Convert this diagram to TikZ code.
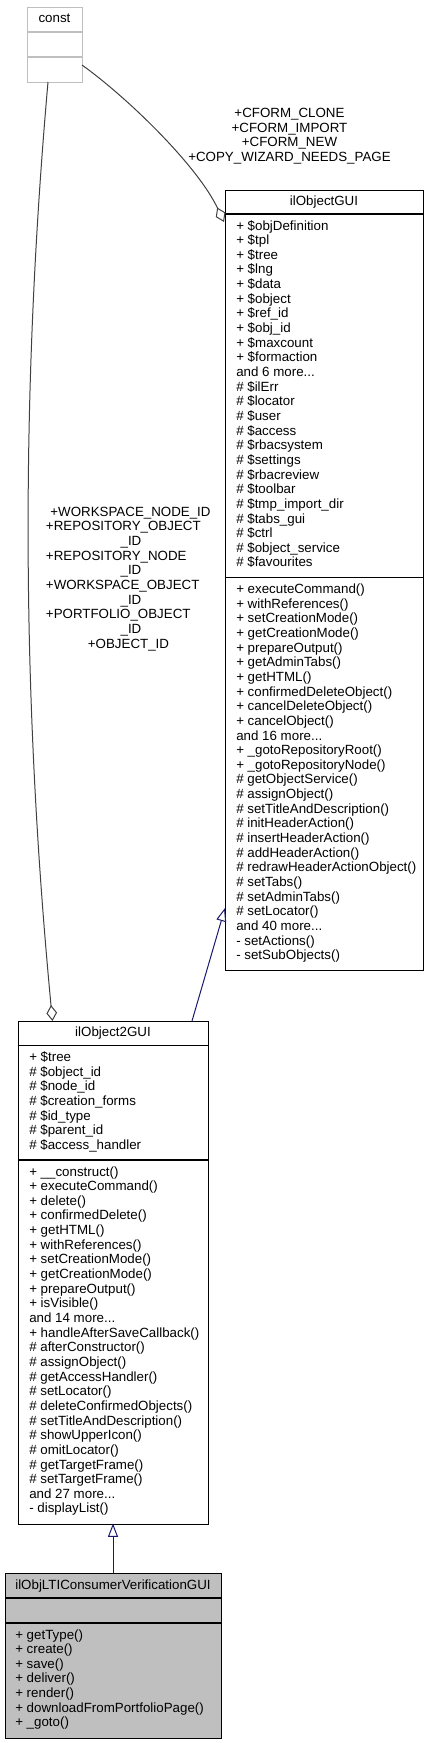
\documentclass[tikz,border=0pt]{standalone}
\usepackage{fontspec}
\setmainfont{Liberation Sans}
\usetikzlibrary{arrows.meta}
\definecolor{edgegrey}{HTML}{404040}
\definecolor{inhblue}{HTML}{191970}
\definecolor{focusgrey}{HTML}{BFBFBF}
\definecolor{undocgrey}{HTML}{BFBFBF}
\newcommand\moredots{...}
\begin{document}
\begin{tikzpicture}[x=0.75pt,y=-0.75pt,
  font=\fontsize{10pt}{11pt}\selectfont,
  classbox/.style={draw=black, line width=0.9pt, inner sep=0pt, anchor=north west},
  member/.style={inner sep=0pt, anchor=mid west},
  ctitle/.style={inner sep=0pt, anchor=mid},
  divider/.style={draw=black, line width=0.9pt},
  aggr/.style={draw=edgegrey, line width=0.75pt, -{Diamond[open,length=12pt,width=8pt]}},
  inherit/.style={draw=inhblue, line width=0.75pt, -{Triangle[open,length=10pt,width=7.5pt]}},
  elabc/.style={inner sep=0pt, anchor=mid},
  elabl/.style={inner sep=0pt, anchor=mid west}
]
\useasboundingbox (0,0) rectangle (428,1743);

% ---------- const ----------
\node[classbox, draw=undocgrey, minimum width=55*0.75pt, minimum height=75.5*0.75pt] (const) at (27,6.5) {};
\draw[divider, draw=undocgrey] (27,32) -- (82,32);
\draw[divider, draw=undocgrey] (27,57) -- (82,57);
\node[ctitle] (const-t) at (54.5,19) {const};

% ---------- ilObjectGUI ----------
\node[classbox, minimum width=198*0.75pt, minimum height=780*0.75pt] (objgui) at (225,190) {};
\draw[divider] (225,214) -- (423,214);
\draw[divider] (225,577.5) -- (423,577.5);
\node[ctitle] (objgui-t) at (324,202) {ilObjectGUI};
\foreach [count=\i from 0] \t in {+ \$objDefinition, + \$tpl, + \$tree, + \$lng, + \$data, + \$object, + \$ref\_id, + \$obj\_id, + \$maxcount, + \$formaction, and 6 more\moredots, \# \$ilErr, \# \$locator, \# \$user, \# \$access, \# \$rbacsystem, \# \$settings, \# \$rbacreview, \# \$toolbar, \# \$tmp\_import\_dir, \# \$tabs\_gui, \# \$ctrl, \# \$object\_service, \# \$favourites}
  \node[member] (objgui-a\i) at (236,226.5+\i*14.65) {\t};
\foreach [count=\i from 0] \t in {+ executeCommand(), + withReferences(), + setCreationMode(), + getCreationMode(), + prepareOutput(), + getAdminTabs(), + getHTML(), + confirmedDeleteObject(), + cancelDeleteObject(), + cancelObject(), and 16 more\moredots, + \_gotoRepositoryRoot(), + \_gotoRepositoryNode(), \# getObjectService(), \# assignObject(), \# setTitleAndDescription(), \# initHeaderAction(), \# insertHeaderAction(), \# addHeaderAction(), \# redrawHeaderActionObject(), \# setTabs(), \# setAdminTabs(), \# setLocator(), and 40 more\moredots, - setActions(), - setSubObjects()}
  \node[member] (objgui-m\i) at (236,590+\i*14.65) {\t};

% ---------- ilObject2GUI ----------
\node[classbox, minimum width=190*0.75pt, minimum height=502.5*0.75pt] (obj2gui) at (18,1021) {};
\draw[divider] (18,1045.5) -- (208,1045.5);
\draw[divider] (18,1160) -- (208,1160);
\node[ctitle] (obj2gui-t) at (113,1033) {ilObject2GUI};
\foreach [count=\i from 0] \t in {+ \$tree, \# \$object\_id, \# \$node\_id, \# \$creation\_forms, \# \$id\_type, \# \$parent\_id, \# \$access\_handler}
  \node[member] (obj2gui-a\i) at (29,1058+\i*14.65) {\t};
\foreach [count=\i from 0] \t in {+ \_\_construct(), + executeCommand(), + delete(), + confirmedDelete(), + getHTML(), + withReferences(), + setCreationMode(), + getCreationMode(), + prepareOutput(), + isVisible(), and 14 more\moredots, + handleAfterSaveCallback(), \# afterConstructor(), \# assignObject(), \# getAccessHandler(), \# setLocator(), \# deleteConfirmedObjects(), \# setTitleAndDescription(), \# showUpperIcon(), \# omitLocator(), \# getTargetFrame(), \# setTargetFrame(), and 27 more\moredots, - displayList()}
  \node[member] (obj2gui-m\i) at (29,1172.5+\i*14.65) {\t};

% ---------- ilObjLTIConsumerVerificationGUI ----------
\node[classbox, fill=focusgrey, minimum width=216*0.75pt, minimum height=164.5*0.75pt] (lti) at (5,1573) {};
\draw[divider] (5,1598) -- (221,1598);
\draw[divider] (5,1623) -- (221,1623);
\node[ctitle] (lti-t) at (113,1585.5) {ilObjLTIConsumerVerificationGUI};
\foreach [count=\i from 0] \t in {+ getType(), + create(), + save(), + deliver(), + render(), + downloadFromPortfolioPage(), + \_goto()}
  \node[member] (lti-m\i) at (15,1635.5+\i*14.65) {\t};

% ---------- connector end points ----------
\coordinate (const-r) at (82,65);
\coordinate (const-b) at (48,82);
\coordinate (objgui-l1) at (224,222);
\coordinate (objgui-l2) at (225,908);
\coordinate (obj2gui-t1) at (52.5,1021);
\coordinate (obj2gui-t2) at (192,1021);
\coordinate (obj2gui-b) at (113,1523.5);
\coordinate (lti-top) at (113,1573);

% ---------- connectors ----------
\draw[aggr] (const-r) .. controls (130.6,100) and (198.5,167.5) .. (objgui-l1);
\draw[aggr] (const-b) .. controls (20,400) and (22,700) .. (obj2gui-t1);
\draw[inherit] (obj2gui-t2) -- (objgui-l2);
\draw[inherit] (lti-top) -- (obj2gui-b);

% ---------- edge labels ----------
\foreach [count=\i from 0] \t in {+CFORM\_CLONE, +CFORM\_IMPORT, +CFORM\_NEW, +COPY\_WIZARD\_NEEDS\_PAGE}
  \node[elabc] (lab-cform\i) at (289.5,114+\i*14.65) {\t};
\node[elabc] (lab-ids0) at (130.5,512.7) {+WORKSPACE\_NODE\_ID};
\node[elabl] (lab-ids1) at (45.7,527.35) {+REPOSITORY\_OBJECT};
\node[elabc] (lab-ids2) at (131,542) {\_ID};
\node[elabl] (lab-ids3) at (45.7,556.65) {+REPOSITORY\_NODE};
\node[elabc] (lab-ids4) at (131,571.3) {\_ID};
\node[elabl] (lab-ids5) at (45.7,585.95) {+WORKSPACE\_OBJECT};
\node[elabc] (lab-ids6) at (131,600.6) {\_ID};
\node[elabl] (lab-ids7) at (45.7,615.25) {+PORTFOLIO\_OBJECT};
\node[elabc] (lab-ids8) at (131,629.9) {\_ID};
\node[elabc] (lab-ids9) at (128.5,644.55) {+OBJECT\_ID};
\end{tikzpicture}
\end{document}
